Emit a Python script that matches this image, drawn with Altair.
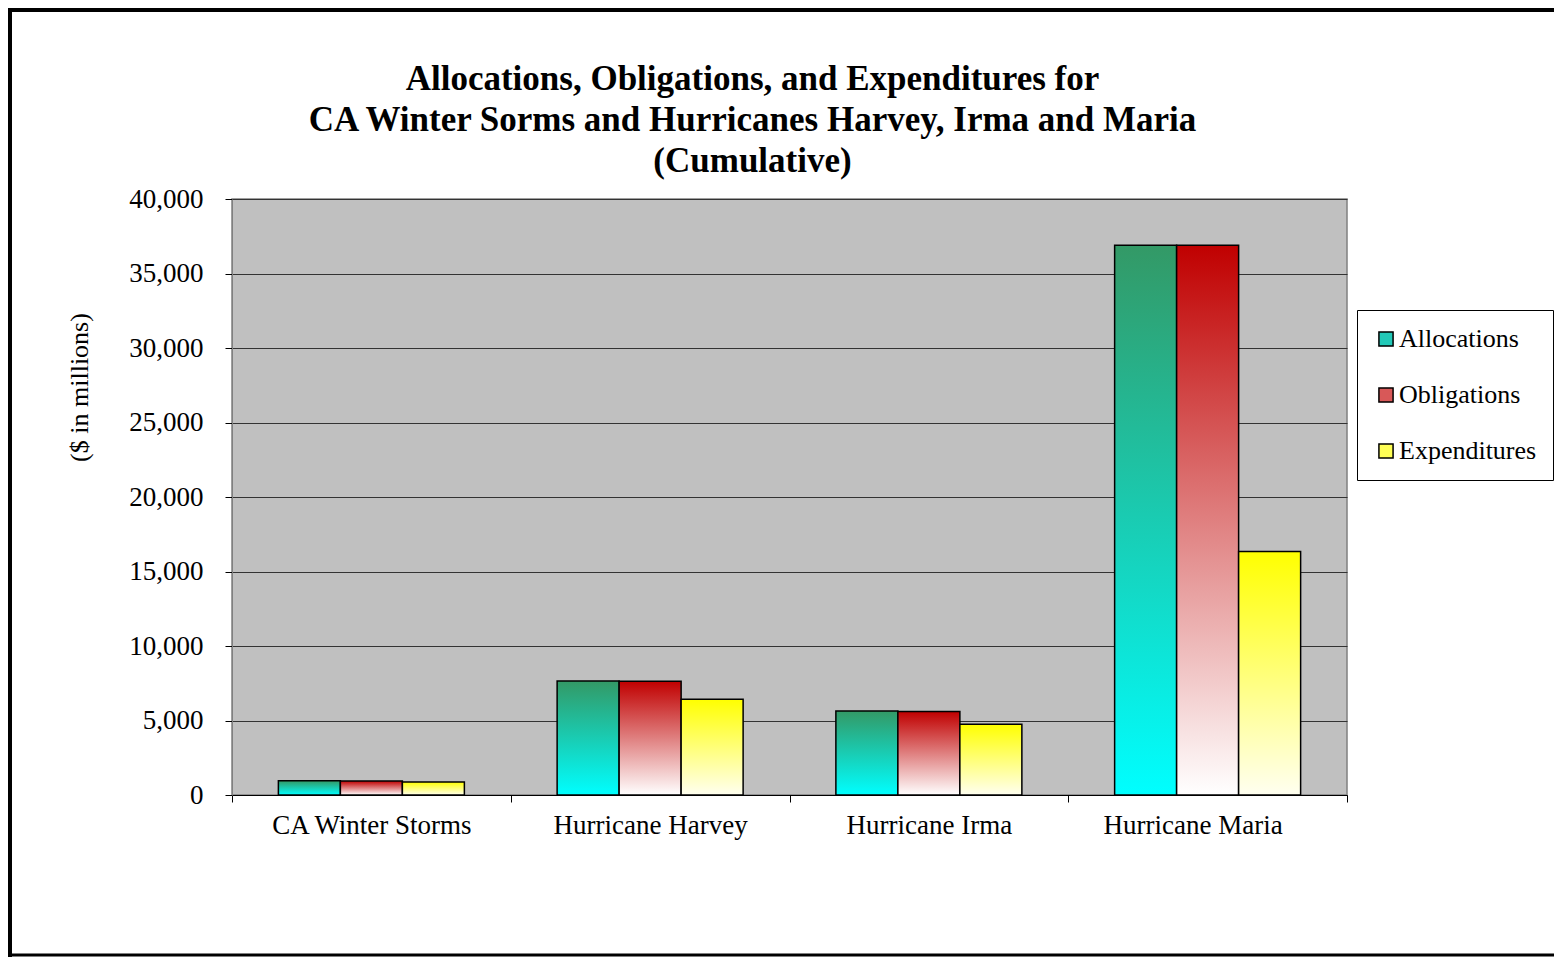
import altair as alt
import pandas as pd

categories = ["CA Winter Storms", "Hurricane Harvey", "Hurricane Irma", "Hurricane Maria"]
series = ["Allocations", "Obligations", "Expenditures"]
allocations = [950, 7650, 5640, 36900]
obligations = [940, 7640, 5600, 36900]
expenditures = [880, 6420, 4745, 16340]

rows = []
for i, c in enumerate(categories):
    rows.append({"category": c, "series": "Allocations", "value": allocations[i]})
    rows.append({"category": c, "series": "Obligations", "value": obligations[i]})
    rows.append({"category": c, "series": "Expenditures", "value": expenditures[i]})
df = pd.DataFrame(rows)

FONT = "Liberation Serif"

def grad(top, bottom):
    return alt.LinearGradient(
        gradient="linear", x1=0, x2=0, y1=0, y2=1,
        stops=[alt.GradientStop(offset=0, color=top), alt.GradientStop(offset=1, color=bottom)],
    )

gradients = {
    "Allocations": grad("#339966", "#00FFFF"),
    "Obligations": grad("#C00000", "#FFFFFF"),
    "Expenditures": grad("#FFFF00", "#FFFFF0"),
}

x_enc = alt.X(
    "category:N", sort=categories,
    scale=alt.Scale(paddingInner=0, paddingOuter=0),
    axis=alt.Axis(title=None, labelAngle=0, labelFont=FONT, labelFontSize=27, labelColor="black",
                  tickBand="extent", tickSize=7, tickColor="black", domainColor="black",
                  labelPadding=10, labelLimit=400,
                  labelOffset={"condition": {"test": "datum.value === 'Hurricane Maria'", "value": -15},
                               "value": 0}),
)
y_enc = alt.Y(
    "value:Q",
    scale=alt.Scale(domain=[0, 40000], nice=False),
    axis=alt.Axis(title="($ in millions)", values=list(range(0, 40001, 5000)), format=",d",
                  labelFont=FONT, labelFontSize=27, labelColor="black", labelPadding=22,
                  tickSize=7, tickColor="black", domainColor="#808080",
                  grid=True, gridColor="#333333", gridWidth=1.2,
                  titleFont=FONT, titleFontSize=26, titleFontWeight="normal", titleColor="black",
                  titlePadding=36, titleY=188),
)
xoff = alt.XOffset("series:N", sort=series,
                   scale=alt.Scale(domain=series, paddingInner=0, paddingOuter=0.748))

base = alt.Chart(df)
layers = []
for s in series:
    layers.append(
        base.transform_filter(alt.datum.series == s)
        .mark_bar(stroke="black", strokeWidth=1.5)
        .encode(x=x_enc, xOffset=xoff, y=y_enc, fill=alt.value(gradients[s]))
    )

legend_layer = base.mark_square(size=0, opacity=0).encode(
    color=alt.Color(
        "series:N", sort=series,
        scale=alt.Scale(domain=series, range=["#22C9B8", "#D85858", "#FFFF55"]),
        legend=alt.Legend(
            title=None, orient="none", legendX=1125, legendY=111,
            padding=16, strokeColor="black", fillColor="white",
            labelFont=FONT, labelFontSize=26, labelColor="black", labelOffset=0,
            symbolType="square", symbolSize=200, symbolOpacity=1,
            symbolStrokeColor="black", symbolStrokeWidth=1.5, rowPadding=30,
        ),
    )
)

frame_df = pd.DataFrame({"k": [0]})
frame_top = alt.Chart(frame_df).mark_rule(color="black", strokeWidth=4).encode(
    x=alt.value(-224), x2=alt.value(1322), y=alt.value(-189))
frame_left = alt.Chart(frame_df).mark_rule(color="black", strokeWidth=4).encode(
    x=alt.value(-222), y=alt.value(-191), y2=alt.value(758))
frame_bottom = alt.Chart(frame_df).mark_rule(color="black", strokeWidth=3).encode(
    x=alt.value(-224), x2=alt.value(1322), y=alt.value(756))

chart = alt.layer(*layers, legend_layer, frame_top, frame_left, frame_bottom).properties(
    width=1115, height=596,
    title=alt.TitleParams(
        text=["Allocations, Obligations, and Expenditures for",
              "CA Winter Sorms and Hurricanes Harvey, Irma and Maria",
              "(Cumulative)"],
        font=FONT, fontSize=35, fontWeight="bold", color="black",
        anchor="middle", dx=-37, offset=0, dy=173, lineHeight=41,
    ),
    view=alt.ViewBackground(fill="#C0C0C0", stroke="#808080", strokeWidth=1.5),
    autosize=alt.AutoSizeParams(type="none"),
    padding={"left": 224, "top": 191, "right": 207, "bottom": 162},
    background="white",
).configure_view(
    fill="#C0C0C0", stroke="#808080", strokeWidth=1.5
)

chart.save("out.html", embed_options={"renderer": "svg", "actions": False})
